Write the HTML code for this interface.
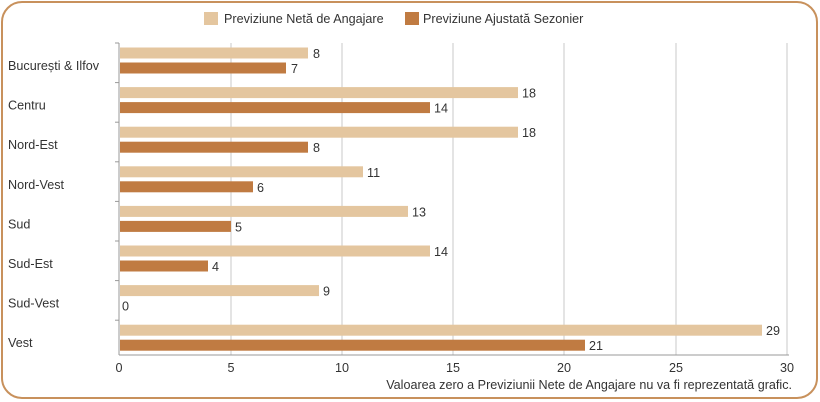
<!DOCTYPE html>
<html><head><meta charset="utf-8"><style>
body{margin:0;background:#fff;}
svg{display:block;font-family:"Liberation Sans",sans-serif;}
</style></head><body>
<svg width="820" height="402" viewBox="0 0 820 402">
<rect x="2" y="2" width="815" height="396" rx="20" fill="#fff" stroke="#c8915c" stroke-width="2"/>
<rect x="204" y="12" width="14" height="13" fill="#e4c69f"/>
<text x="224" y="23" font-size="12.6" fill="#333">Previziune Netă de Angajare</text>
<rect x="405" y="12" width="14" height="13" fill="#c07b42"/>
<text x="423" y="23" font-size="12.6" fill="#333">Previziune Ajustată Sezonier</text>
<g stroke="#c9c9c9" stroke-width="1">
<line x1="231" y1="43" x2="231" y2="355"/><line x1="342" y1="43" x2="342" y2="355"/>
<line x1="453" y1="43" x2="453" y2="355"/><line x1="564" y1="43" x2="564" y2="355"/>
<line x1="676" y1="43" x2="676" y2="355"/><line x1="787" y1="43" x2="787" y2="355"/>
</g>
<g stroke="#999" stroke-width="1">
<line x1="119" y1="43" x2="119" y2="355"/><line x1="119" y1="355" x2="789" y2="355"/>
<line x1="115" y1="43" x2="119" y2="43"/><line x1="115" y1="82.6" x2="119" y2="82.6"/>
<line x1="115" y1="122.2" x2="119" y2="122.2"/><line x1="115" y1="161.8" x2="119" y2="161.8"/>
<line x1="115" y1="201.4" x2="119" y2="201.4"/><line x1="115" y1="241" x2="119" y2="241"/>
<line x1="115" y1="280.6" x2="119" y2="280.6"/><line x1="115" y1="320.2" x2="119" y2="320.2"/>
</g>
<g font-size="12.6" fill="#333">
<g transform="translate(0,0)">
<text x="8" y="70">București &amp; Ilfov</text>
<rect x="120" y="47.5" width="188" height="11" fill="#e4c69f"/><text x="313" y="58">8</text>
<rect x="120" y="62.5" width="166" height="11" fill="#c07b42"/><text x="291" y="73">7</text>
</g>
<g transform="translate(0,39.6)">
<text x="8" y="70">Centru</text>
<rect x="120" y="47.5" width="398" height="11" fill="#e4c69f"/><text x="522" y="58">18</text>
<rect x="120" y="62.5" width="310" height="11" fill="#c07b42"/><text x="434" y="73">14</text>
</g>
<g transform="translate(0,79.2)">
<text x="8" y="70">Nord-Est</text>
<rect x="120" y="47.5" width="398" height="11" fill="#e4c69f"/><text x="522" y="58">18</text>
<rect x="120" y="62.5" width="188" height="11" fill="#c07b42"/><text x="313" y="73">8</text>
</g>
<g transform="translate(0,118.8)">
<text x="8" y="70">Nord-Vest</text>
<rect x="120" y="47.5" width="243" height="11" fill="#e4c69f"/><text x="367" y="58">11</text>
<rect x="120" y="62.5" width="133" height="11" fill="#c07b42"/><text x="257" y="73">6</text>
</g>
<g transform="translate(0,158.4)">
<text x="8" y="70">Sud</text>
<rect x="120" y="47.5" width="288" height="11" fill="#e4c69f"/><text x="412" y="58">13</text>
<rect x="120" y="62.5" width="111" height="11" fill="#c07b42"/><text x="235" y="73">5</text>
</g>
<g transform="translate(0,198)">
<text x="8" y="70">Sud-Est</text>
<rect x="120" y="47.5" width="310" height="11" fill="#e4c69f"/><text x="434" y="58">14</text>
<rect x="120" y="62.5" width="88" height="11" fill="#c07b42"/><text x="212" y="73">4</text>
</g>
<g transform="translate(0,237.6)">
<text x="8" y="70">Sud-Vest</text>
<rect x="120" y="47.5" width="199" height="11" fill="#e4c69f"/><text x="323" y="58">9</text>
<text x="122" y="73">0</text>
</g>
<g transform="translate(0,277.2)">
<text x="8" y="70">Vest</text>
<rect x="120" y="47.5" width="642" height="11" fill="#e4c69f"/><text x="766" y="58">29</text>
<rect x="120" y="62.5" width="465" height="11" fill="#c07b42"/><text x="589" y="73">21</text>
</g>
<g text-anchor="middle">
<text x="119" y="372">0</text><text x="231" y="372">5</text><text x="342" y="372">10</text>
<text x="453" y="372">15</text><text x="564" y="372">20</text><text x="676" y="372">25</text><text x="787" y="372">30</text>
</g>
<text x="792" y="389" text-anchor="end">Valoarea zero a Previziunii Nete de Angajare nu va fi reprezentată grafic.</text>
</g>
</svg>
</body></html>
